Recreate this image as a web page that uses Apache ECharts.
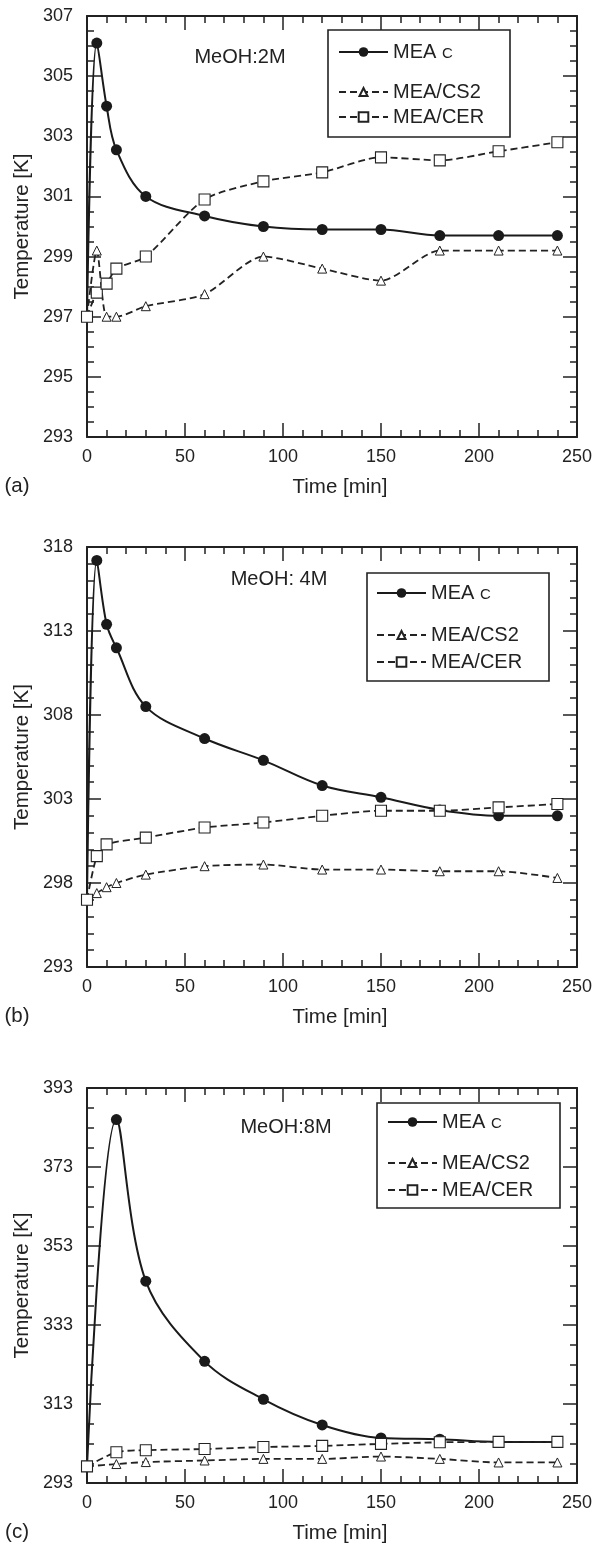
<!DOCTYPE html>
<html>
<head>
<meta charset="utf-8">
<script src="https://cdn.jsdelivr.net/npm/echarts@6/dist/echarts.min.js"></script>
<style>
  html, body { margin: 0; padding: 0; background: #fff; }
  #chart { width: 595px; height: 1563px; }
</style>
</head>
<body>
<div id="chart"></div>
<script>
// Sampling times [min]
const timeFull = [0, 5, 10, 15, 30, 60, 90, 120, 150, 180, 210, 240];
const timeCerB = [0, 5, 10, 30, 60, 90, 120, 150, 180, 210, 240];
const timeC    = [0, 15, 30, 60, 90, 120, 150, 180, 210, 240];

// (a) MeOH 2M — temperature [K]
const meaC_a  = [297.0, 306.1, 304.0, 302.55, 301.0, 300.35, 300.0, 299.9, 299.9, 299.7, 299.7, 299.7];
const cs2_a   = [297.0, 299.2, 297.0, 297.0, 297.35, 297.75, 299.0, 298.6, 298.2, 299.2, 299.2, 299.2];
const cer_a   = [297.0, 297.8, 298.1, 298.6, 299.0, 300.9, 301.5, 301.8, 302.3, 302.2, 302.5, 302.8];

// (b) MeOH 4M
const meaC_b  = [297.0, 317.2, 313.4, 312.0, 308.5, 306.6, 305.3, 303.8, 303.1, 302.35, 302.0, 302.0];
const cs2_b   = [297.0, 297.4, 297.75, 298.0, 298.5, 299.0, 299.1, 298.8, 298.8, 298.7, 298.7, 298.3];
const cer_b   = [297.0, 299.6, 300.3, 300.7, 301.3, 301.6, 302.0, 302.3, 302.3, 302.5, 302.7];

// (c) MeOH 8M
const meaC_c  = [297.2, 385.0, 344.1, 323.8, 314.2, 307.7, 304.4, 304.1, 303.4, 303.4];
const cs2_c   = [297.2, 297.8, 298.3, 298.7, 299.1, 299.1, 299.7, 299.1, 298.2, 298.2];
const cer_c   = [297.2, 300.8, 301.3, 301.6, 302.1, 302.4, 302.9, 303.3, 303.4, 303.4];

// Axis ranges and tick steps
const xRange = [0, 250];
const xStep = 50;
const yRanges = [[293, 307], [293, 318], [293, 393]];
const ySteps = [2, 5, 20];
const yMinorSplits = [4, 5, 4];

const notes = ['MeOH:2M', 'MeOH: 4M', 'MeOH:8M'];
const tags = ['(a)', '(b)', '(c)'];
const seriesNames = ['MEA_C', 'MEA/CS2', 'MEA/CER'];

const INK = '#222';
const FONT = 'Liberation Sans';

// Panel frames
const panels = [
  { grid: { left: 87, top: 16,   width: 491, height: 421 }, note: [240, 57],
    legendLeft: 338, legendRows: [52, 92, 117], box: [328, 30, 182, 107],
    sets: [[timeFull, meaC_a], [timeFull, cs2_a], [timeFull, cer_a]] },
  { grid: { left: 87, top: 547,  width: 491, height: 420 }, note: [279, 579],
    legendLeft: 376, legendRows: [593, 635, 662], box: [367, 573, 182, 108],
    sets: [[timeFull, meaC_b], [timeFull, cs2_b], [timeCerB, cer_b]] },
  { grid: { left: 87, top: 1088, width: 491, height: 395 }, note: [286, 1127],
    legendLeft: 387, legendRows: [1122, 1163, 1190], box: [377, 1103, 183, 105],
    sets: [[timeC, meaC_c], [timeC, cs2_c], [timeC, cer_c]] }
];

const seriesLook = [
  { symbol: 'circle', symbolSize: 11, smooth: 0.35,
    itemStyle: { color: '#1a1a1a' },
    lineStyle: { color: '#1a1a1a', width: 2, type: 'solid' } },
  { symbol: 'triangle', symbolSize: 9, smooth: 0.25,
    itemStyle: { color: '#fff', borderColor: INK, borderWidth: 1 },
    lineStyle: { color: INK, width: 1.8, type: [7, 4] } },
  { symbol: 'rect', symbolSize: 11, smooth: 0.25,
    itemStyle: { color: '#fff', borderColor: INK, borderWidth: 1.1 },
    lineStyle: { color: INK, width: 1.8, type: [7, 4] } }
];

const tickStyle = { color: INK, width: 1.5 };

function frameAxis(extra) {
  return Object.assign({
    type: 'value',
    axisLine: { show: true, onZero: false, lineStyle: { color: INK, width: 2 } },
    axisTick: { show: true, inside: true, length: 14, lineStyle: tickStyle },
    minorTick: { show: true, length: 7, lineStyle: tickStyle },
    splitLine: { show: false },
    axisLabel: { show: false }
  }, extra);
}

const grids = [], xAxes = [], yAxes = [], series = [], legends = [], graphics = [];

panels.forEach((p, gi) => {
  grids.push(p.grid);
  const [yMin, yMax] = yRanges[gi];
  const xBase = { gridIndex: gi, min: xRange[0], max: xRange[1], interval: xStep };
  const yBase = { gridIndex: gi, min: yMin, max: yMax, interval: ySteps[gi] };

  xAxes.push(frameAxis(Object.assign({}, xBase, {
    position: 'bottom',
    minorTick: { show: true, splitNumber: 5, length: 7, lineStyle: tickStyle },
    axisLabel: { show: true, color: INK, fontSize: 18, fontFamily: FONT, margin: 11 }
  })));
  xAxes.push(frameAxis(Object.assign({}, xBase, {
    position: 'top',
    minorTick: { show: true, splitNumber: 5, length: 7, lineStyle: tickStyle }
  })));
  yAxes.push(frameAxis(Object.assign({}, yBase, {
    position: 'left',
    minorTick: { show: true, splitNumber: yMinorSplits[gi], length: 7, lineStyle: tickStyle },
    axisLabel: { show: true, color: INK, fontSize: 18, fontFamily: FONT, margin: 14 }
  })));
  yAxes.push(frameAxis(Object.assign({}, yBase, {
    position: 'right',
    minorTick: { show: true, splitNumber: yMinorSplits[gi], length: 7, lineStyle: tickStyle }
  })));

  p.sets.forEach(([times, vals], si) => {
    const look = seriesLook[si];
    series.push({
      type: 'line',
      name: seriesNames[si],
      xAxisIndex: gi * 2,
      yAxisIndex: gi * 2,
      data: times.map((t, i) => [t, vals[i]]),
      symbol: look.symbol,
      symbolSize: look.symbolSize,
      smooth: look.smooth,
      showAllSymbol: true,
      clip: false,
      itemStyle: look.itemStyle,
      lineStyle: look.lineStyle,
      emphasis: { disabled: true },
      z: 2 + si
    });

    // one legend row per series, so row spacing can follow the panel layout
    legends.push({
      data: [seriesNames[si]],
      left: p.legendLeft,
      top: p.legendRows[si] - 10,
      padding: 0,
      itemWidth: 49,
      itemHeight: si === 1 ? 10 : 12,
      selectedMode: false,
      formatter: name => name === 'MEA_C' ? 'MEA {sub|C}' : name,
      textStyle: {
        color: INK, fontSize: 20, fontFamily: FONT, lineHeight: 20,
        rich: { sub: { fontSize: 15, fontFamily: FONT, color: INK, lineHeight: 20, padding: [4, 0, 0, 0] } }
      }
    });
  });

  const g = p.grid;
  const [bx, by, bw, bh] = p.box;
  graphics.push(
    { type: 'rect', shape: { x: bx, y: by, width: bw, height: bh },
      style: { fill: 'none', stroke: INK, lineWidth: 1.6 }, z: 1 },
    { type: 'text', x: p.note[0], y: p.note[1],
      style: { text: notes[gi], fill: INK, font: '20px "' + FONT + '"', align: 'center', verticalAlign: 'middle' } },
    { type: 'text', x: 22, y: g.top + g.height / 2, rotation: Math.PI / 2,
      style: { text: 'Temperature [K]', fill: INK, font: '20.5px "' + FONT + '"', align: 'center', verticalAlign: 'middle' } },
    { type: 'text', x: 340, y: g.top + g.height + 50,
      style: { text: 'Time [min]', fill: INK, font: '20.5px "' + FONT + '"', align: 'center', verticalAlign: 'middle' } },
    { type: 'text', x: 17, y: g.top + g.height + 49,
      style: { text: tags[gi], fill: INK, font: '20.5px "' + FONT + '"', align: 'center', verticalAlign: 'middle' } }
  );
});

const chart = echarts.init(document.getElementById('chart'), null, { renderer: 'canvas' });
chart.setOption({
  animation: false,
  backgroundColor: '#fff',
  grid: grids,
  xAxis: xAxes,
  yAxis: yAxes,
  legend: legends,
  series: series,
  graphic: graphics
});
</script>
</body>
</html>
